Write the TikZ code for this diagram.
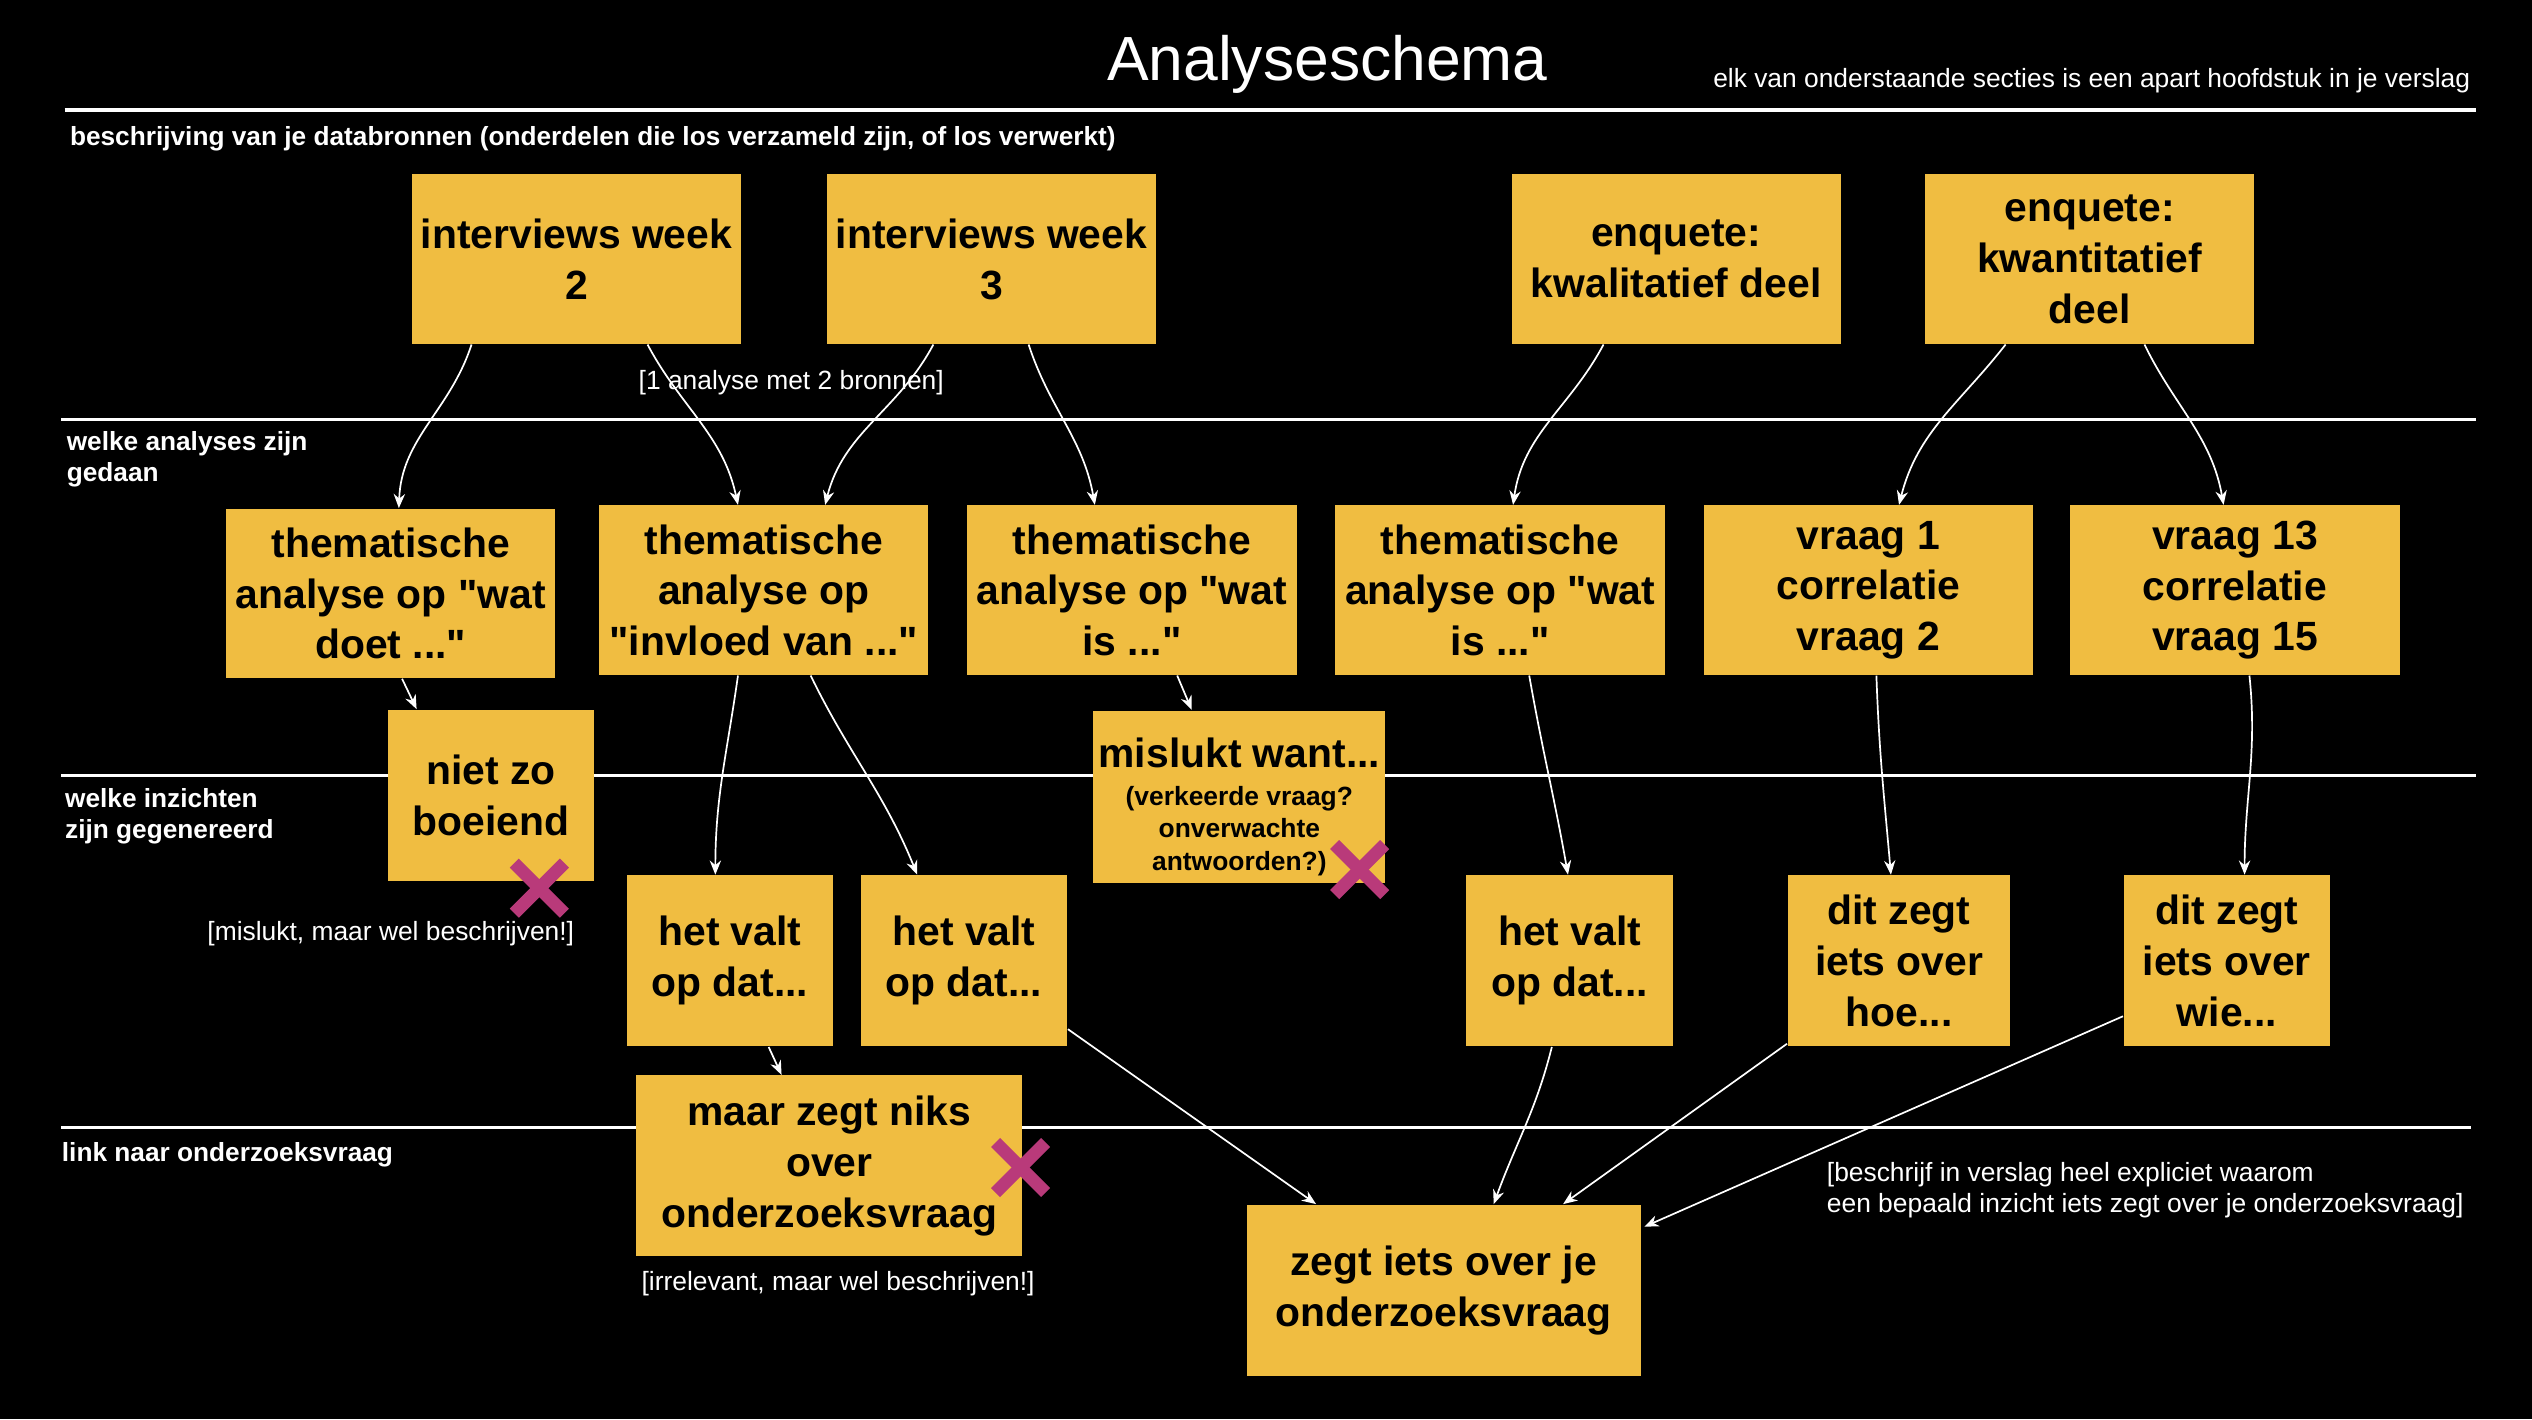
\documentclass[tikz,border=0pt]{standalone}
\usepackage{fontspec}
\setmainfont{Liberation Sans}
\usetikzlibrary{arrows.meta,calc}
\definecolor{boxyellow}{RGB}{240,189,65}
\definecolor{crossred}{RGB}{185,58,122}
\newcommand{\boxfont}{\fontsize{14.4}{17.9}\selectfont\bfseries}
\newcommand{\notefont}{\fontsize{9.3}{11.2}\selectfont}
\newcommand{\labelfont}{\fontsize{9.25}{10.8}\selectfont\bfseries}
\newcommand{\subboxfont}{\fontsize{9.3}{11.6}\selectfont\bfseries}
\newcommand{\qq}{\textquotedbl}

\begin{document}
\begin{tikzpicture}[x=0.02cm,y=0.02cm,
    box/.style={fill=boxyellow,text=black,align=center,font=\boxfont,inner sep=0pt,
      minimum width=4.08cm,minimum height=2.1cm},
    smallbox/.style={box,minimum width=2.56cm,minimum height=2.12cm},
    arr/.style={draw=white,line width=0.6pt,-{Stealth[length=5pt,width=4pt]}},
    sep/.style={draw=white,line width=1pt},
    note/.style={text=white,font=\notefont,inner sep=0pt},
    section/.style={text=white,font=\labelfont,align=left,anchor=west,inner sep=0pt},
    cross/.style={draw=crossred,line width=4.5pt}]
    \fill[black] (0,0) rectangle (1568,-879);
    \useasboundingbox (0,0) rectangle (1568,-879);

    % title and section lines
    \node[text=white,font=\fontsize{22}{26}\selectfont] (title) at (822,-40) {Analyseschema};
    \node[note,anchor=east] (subtitle) at (1530,-50) {elk van onderstaande secties is een apart hoofdstuk in je verslag};
    \draw[sep,line width=1.2pt] (40,-68) -- (1533,-68);
    \draw[sep] (38,-260) -- (1533,-260);
    \draw[sep] (38,-480) -- (1533,-480);
    \draw[sep] (38,-698) -- (1530,-698);
    \node[section] (lbldata) at (43,-86) {beschrijving van je databronnen (onderdelen die los verzameld zijn, of los verwerkt)};
    \node[section] (lblanalyse) at (41,-284.5) {welke analyses zijn\\gedaan};
    \node[section] (lblinzicht) at (40,-505.5) {welke inzichten\\zijn gegenereerd};
    \node[section] (lbllink) at (38,-715) {link naar onderzoeksvraag};

    % databronnen
    \node[box] (iw2) at (357,-160.5) {interviews week\\2};
    \node[box] (iw3) at (614,-160.5) {interviews week\\3};
    \node[box] (enqkwal) at (1038,-160.5) {enquete:\\kwalitatief deel};
    \node[box] (enqkwant) at (1294,-160.5) {enquete:\\kwantitatief\\deel};
    \node[note] (twobron) at (490,-237) {[1 analyse met 2 bronnen]};

    % analyses
    \node[box] (ta1) at (242,-367.5) {thematische\\analyse op \qq wat\\doet ...\qq};
    \node[box] (ta2) at (473,-365.5) {thematische\\analyse op\\\qq invloed van ...\qq};
    \node[box] (ta3) at (701,-365.5) {thematische\\analyse op \qq wat\\is ...\qq};
    \node[box] (ta4) at (929,-365.5) {thematische\\analyse op \qq wat\\is ...\qq};
    \node[box] (v1) at (1157,-365.5) {vraag 1\\correlatie\\vraag 2};
    \node[box] (v13) at (1384,-365.5) {vraag 13\\correlatie\\vraag 15};

    % inzichten
    \node[smallbox] (niet) at (304,-492.5) {niet zo\\boeiend};
    \node[box,minimum width=3.62cm,minimum height=2.14cm] (mislukt) at (767.5,-493.5)
      {\rule{0pt}{19pt}mislukt want...\\[-4.5pt]{\subboxfont\begin{tabular}[t]{@{}c@{}}(verkeerde vraag?\\onverwachte\\antwoorden?)\end{tabular}}};
    \node[smallbox] (hv1) at (452,-595) {het valt\\op dat...};
    \node[smallbox] (hv2) at (597,-595) {het valt\\op dat...};
    \node[smallbox] (hv3) at (972,-595) {het valt\\op dat...};
    \node[smallbox,minimum width=2.76cm] (dz1) at (1176,-595) {dit zegt\\iets over\\hoe...};
    \node[smallbox] (dz2) at (1379,-595) {dit zegt\\iets over\\wie...};
    \node[note] (nietnote) at (242,-578) {[mislukt, maar wel beschrijven!]};

    % link naar onderzoeksvraag
    \node[box,minimum width=4.78cm,minimum height=2.24cm] (maar) at (513.5,-722) {maar zegt niks\\over\\onderzoeksvraag};
    \node[box,minimum width=4.88cm,minimum height=2.12cm] (zegt) at (894,-799) {zegt iets over je\\onderzoeksvraag};
    \node[note] (maarnote) at (519,-795) {[irrelevant, maar wel beschrijven!]};
    \node[note,anchor=west,align=left] (linknote) at (1131,-737) {[beschrijf in verslag heel expliciet waarom\\een bepaald inzicht iets zegt over je onderzoeksvraag]};

    % crosses
    \draw[cross] (318.5,-534.5) -- (349.5,-565.5);
    \draw[cross] (349.5,-534.5) -- (318.5,-565.5);
    \draw[cross] (826.5,-523) -- (857.5,-554);
    \draw[cross] (857.5,-523) -- (826.5,-554);
    \draw[cross] (616.5,-707.5) -- (647.5,-738.5);
    \draw[cross] (647.5,-707.5) -- (616.5,-738.5);

    % bronnen naar analyses
    \draw[arr] ($(iw2.south)+(-65,0)$) to[out=-108,in=88] ($(ta1.north)+(5,0)$);
    \draw[arr] ($(iw2.south)+(44,0)$) to[out=-62,in=102] ($(ta2.north)+(-16,0)$);
    \draw[arr] ($(iw3.south)+(-36,0)$) to[out=-118,in=76] ($(ta2.north)+(38,0)$);
    \draw[arr] ($(iw3.south)+(23,0)$) to[out=-72,in=100] ($(ta3.north)+(-23,0)$);
    \draw[arr] ($(enqkwal.south)+(-45,0)$) to[out=-118,in=82] ($(ta4.north)+(8,0)$);
    \draw[arr] ($(enqkwant.south)+(-52,0)$) to[out=-128,in=76] ($(v1.north)+(19,0)$);
    \draw[arr] ($(enqkwant.south)+(34,0)$) to[out=-64,in=100] ($(v13.north)+(-7,0)$);

    % analyses naar inzichten
    \draw[arr] ($(ta1.south)+(7,0)$) -- ($(niet.north)+(-46,0)$);
    \draw[arr] ($(ta2.south)+(-16,0)$) to[out=-98,in=90] ($(hv1.north)+(-9,0)$);
    \draw[arr] ($(ta2.south)+(29,0)$) to[out=-64,in=112] ($(hv2.north)+(-29,0)$);
    \draw[arr] ($(ta3.south)+(28,0)$) -- ($(mislukt.north)+(-29.5,0)$);
    \draw[arr] ($(ta4.south)+(18,0)$) to[out=-80,in=100] ($(hv3.north)+(-1,0)$);
    \draw[arr] ($(v1.south)+(5,0)$) to[out=-88,in=95] ($(dz1.north)+(-5,0)$);
    \draw[arr] ($(v13.south)+(9,0)$) to[out=-84,in=90] ($(dz2.north)+(11,0)$);

    % inzichten naar onderzoeksvraag
    \draw[arr] ($(hv1.south)+(24,0)$) -- ($(maar.north)+(-29.5,0)$);
    \draw[arr] ($(hv2.south east)+(0,11)$) -- ($(zegt.north)+(-79,0)$);
    \draw[arr] ($(hv3.south)+(-11,0)$) to[out=-104,in=70] ($(zegt.north)+(31,0)$);
    \draw[arr] ($(dz1.south west)+(0,2)$) -- ($(zegt.north)+(74,0)$);
    \draw[arr] ($(dz2.south west)+(0,19)$) -- ($(zegt.north east)+(2,-14)$);
\end{tikzpicture}
\end{document}
